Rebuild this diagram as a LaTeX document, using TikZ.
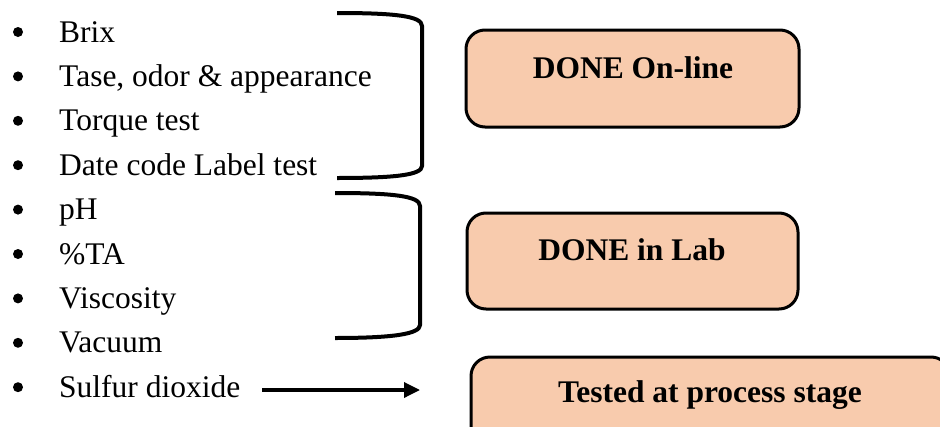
\documentclass[tikz,border=0pt]{standalone}
\usepackage{fontspec}
\setmainfont{Liberation Serif}
\usetikzlibrary{arrows.meta}
\definecolor{peach}{HTML}{F8CBAD}
\begin{document}
\begin{tikzpicture}[x=1pt,y=-1pt,
  item/.style={anchor=base west,inner sep=0pt,font=\fontsize{31.5}{38}\selectfont},
  dot/.style={circle,fill=black,inner sep=0pt,minimum size=10pt},
  panel/.style={draw=black,line width=3pt,fill=peach,rounded corners=19pt,inner sep=0pt},
  paneltext/.style={anchor=base,inner sep=0pt,font=\fontsize{31.5}{38}\selectfont\bfseries},
  brace/.style={line width=4pt},
  arr/.style={line width=3.4pt,-{Triangle[length=16pt,width=15pt]}}]
\useasboundingbox (0,0) rectangle (940,426);
\clip (0,0) rectangle (940,426);

% bullet list
\foreach \t [count=\i from 0] in {Brix,{Tase, odor \& appearance},Torque test,Date code Label test,pH,\%TA,Viscosity,Vacuum,Sulfur dioxide}{
  \pgfmathsetmacro{\yy}{42+44.4*\i}
  \node[dot] (d\i) at (18,\yy-10) {};
  \node[item] (s\i) at (59,\yy) {\t};
}

% right brackets grouping the tests
\draw[brace] (337,13) .. controls (395,13) and (422,16) .. (422,26) -- (422,166)
  .. controls (422,175) and (395,178) .. (337,178);
\draw[brace] (335,193) .. controls (393,193) and (420,196) .. (420,206) -- (420,325)
  .. controls (420,334) and (393,338) .. (335,338);

% result panels
\node[panel,minimum width=333pt,minimum height=97pt] (p1) at (632.5,78.5) {};
\node[paneltext] (t1) at (633,78) {DONE On-line};
\node[panel,minimum width=331pt,minimum height=96pt] (p2) at (632.5,261) {};
\node[paneltext] (t2) at (632,260) {DONE in Lab};
\node[panel,minimum width=479pt,minimum height=90pt] (p3) at (710.5,402) {};
\node[paneltext] (t3) at (710,402) {Tested at process stage};

% arrow from the last item towards the process-stage panel
\coordinate (a0) at (262,390);
\coordinate (a1) at (420,390);
\draw[arr] (a0) -- (a1);
\end{tikzpicture}
\end{document}
